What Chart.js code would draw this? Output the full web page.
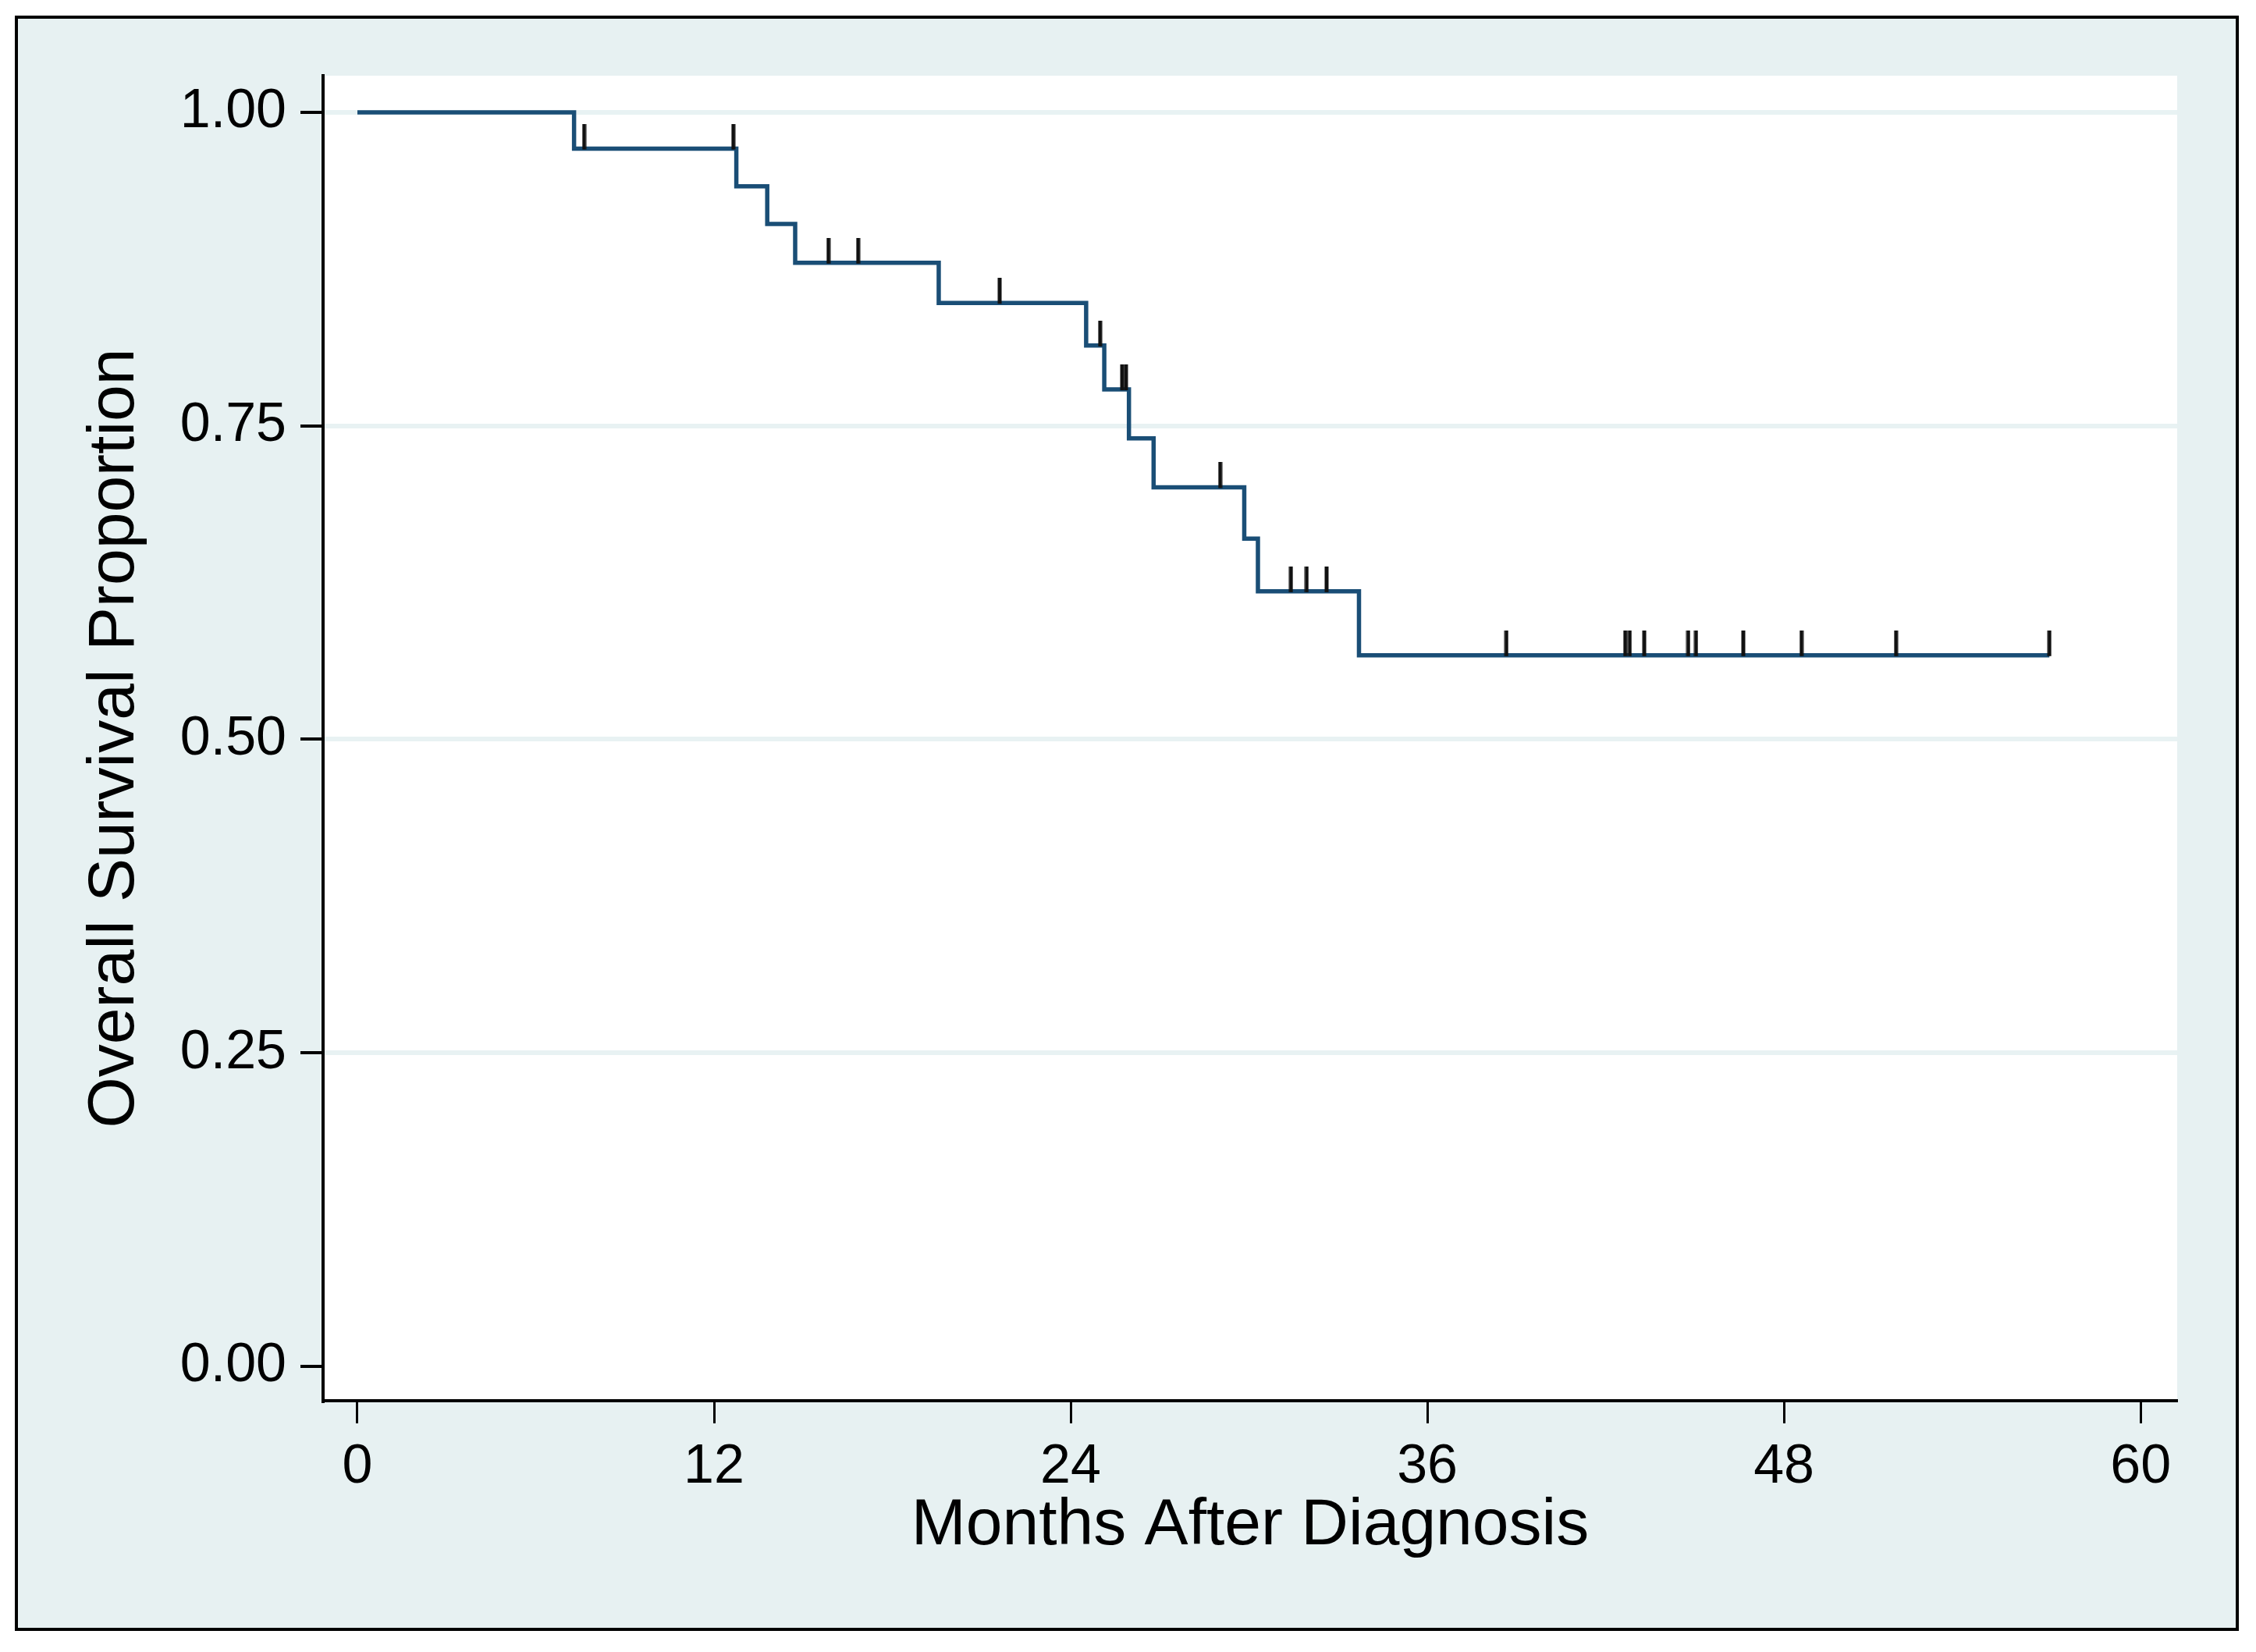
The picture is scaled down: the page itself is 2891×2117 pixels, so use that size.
<!DOCTYPE html>
<html>
<head>
<meta charset="utf-8">
<script src="https://cdn.jsdelivr.net/npm/chart.js@4"></script>
<style>
  html, body { margin: 0; padding: 0; background: #fff; }
  canvas { display: block; }
</style>
</head>
<body>
<canvas id="kmChart" width="2891" height="2117"></canvas>
<script>
// ==================== 数据 ====================
// 事件时间（月）与事件后的生存率
const eventMonths = [0, 7.29, 12.75, 13.79, 14.73, 19.56, 24.52, 25.13, 25.96, 26.79, 29.84, 30.30, 33.70, 56.93];
const survival    = [1.00, 0.971, 0.941, 0.911, 0.880, 0.848, 0.814, 0.779, 0.740, 0.701, 0.660, 0.618, 0.567, 0.567];

// 删失时间（月）
const censorMonths = [7.63, 12.65, 15.85, 16.85, 21.61, 24.99, 25.73, 25.86, 29.03, 31.41, 31.94, 32.61,
                      38.66, 42.66, 42.81, 43.30, 44.78, 45.04, 46.63, 48.59, 51.77, 56.93];

// 刻度
const xTicks = [0, 12, 24, 36, 48, 60];
const yTicks = [0, 0.25, 0.50, 0.75, 1.00];

const xTitle = 'Months After Diagnosis';
const yTitle = 'Overall Survival Proportion';

// ==================== 样式 ====================
const regionColor = '#e7f1f2';
const gridColor = '#e8f2f3';
const lineColor = '#1a4e76';
const fontFamily = '"Liberation Sans", Arial, sans-serif';

// 按阶梯函数查找某时间点的生存率
function survivalAt(t) {
    let s = survival[0];
    for (let i = 0; i < eventMonths.length; i++) {
        if (eventMonths[i] <= t) s = survival[i];
    }
    return s;
}

// 删失标记：从曲线向上的短竖线
const tickMark = document.createElement('canvas');
tickMark.width = 6;
tickMark.height = 64;
(function () {
    const c = tickMark.getContext('2d');
    c.fillStyle = '#111';
    c.fillRect(0.5, 0, 5, 33);
})();

// 背景与外框
const backgroundPlugin = {
    id: 'stataBackground',
    beforeDraw(chart) {
        const ctx = chart.ctx;
        const a = chart.chartArea;
        ctx.save();
        ctx.fillStyle = '#fff';
        ctx.fillRect(0, 0, chart.width, chart.height);
        ctx.fillStyle = regionColor;
        ctx.fillRect(21, 22, 2846, 2066);
        ctx.lineWidth = 4;
        ctx.strokeStyle = '#000';
        ctx.strokeRect(21, 22, 2846, 2066);
        ctx.fillStyle = '#fff';
        ctx.fillRect(a.left, a.top, a.right - a.left, a.bottom - a.top);
        ctx.restore();
    }
};

const kmPoints = eventMonths.map((t, i) => ({ x: t, y: survival[i] }));
const censorPoints = censorMonths.map(t => ({ x: t, y: survivalAt(t) }));

new Chart(document.getElementById('kmChart'), {
    type: 'line',
    data: {
        datasets: [
            {
                label: 'KM',
                data: kmPoints,
                stepped: 'before',
                borderColor: lineColor,
                borderWidth: 5.5,
                pointRadius: 0,
                fill: false,
                order: 2
            },
            {
                label: 'censored',
                data: censorPoints,
                showLine: false,
                pointStyle: tickMark,
                pointRadius: 10,
                order: 1
            }
        ]
    },
    options: {
        responsive: false,
        animation: false,
        devicePixelRatio: 1,
        layout: { padding: { left: 0, top: 97, right: 101, bottom: 0 } },
        plugins: {
            legend: { display: false },
            tooltip: { enabled: false }
        },
        scales: {
            x: {
                type: 'linear',
                min: -1.155,
                max: 61.23,
                afterBuildTicks: s => { s.ticks = xTicks.map(v => ({ value: v })); },
                afterFit: s => { s.height = 322; },
                grid: {
                    drawOnChartArea: false,
                    tickLength: 29,
                    tickColor: '#000',
                    tickWidth: 3
                },
                border: { color: '#000', width: 4 },
                ticks: {
                    color: '#000',
                    padding: 15,
                    maxRotation: 0,
                    font: { family: fontFamily, size: 70 }
                },
                title: {
                    display: true,
                    text: xTitle,
                    color: '#000',
                    font: { family: fontFamily, size: 84, lineHeight: 1.2 },
                    padding: { top: 0, bottom: 111 }
                }
            },
            y: {
                type: 'linear',
                min: -0.0274,
                max: 1.0292,
                afterBuildTicks: s => { s.ticks = yTicks.map(v => ({ value: v })); },
                afterFit: s => { s.width = 414; },
                grid: {
                    color: ctx => (ctx.tick && ctx.tick.value === 0) ? 'rgba(0,0,0,0)' : gridColor,
                    lineWidth: 6,
                    tickLength: 29,
                    tickColor: '#000',
                    tickWidth: 4
                },
                border: { color: '#000', width: 4 },
                ticks: {
                    color: '#000',
                    padding: 18,
                    font: { family: fontFamily, size: 70 },
                    callback: v => Number(v).toFixed(2)
                },
                title: {
                    display: true,
                    text: yTitle,
                    color: '#000',
                    font: { family: fontFamily, size: 84, lineHeight: 1.2 },
                    padding: { top: 97, bottom: 0 }
                }
            }
        }
    },
    plugins: [backgroundPlugin]
});
</script>
</body>
</html>
